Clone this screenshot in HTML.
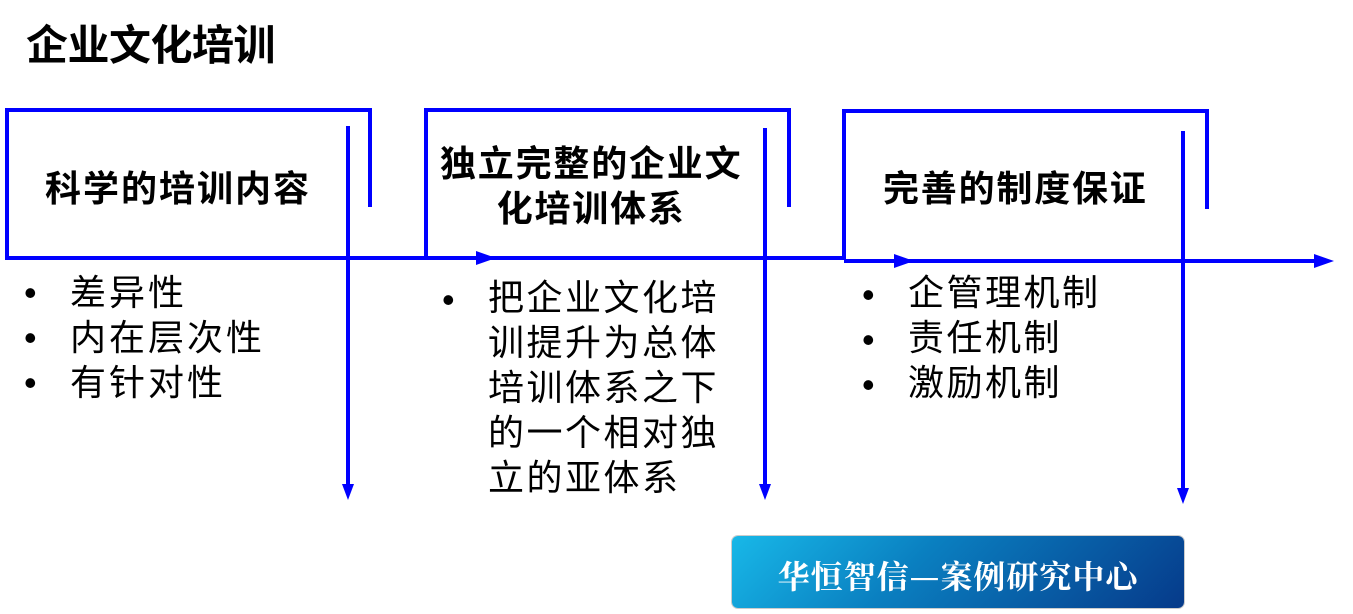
<!DOCTYPE html>
<html><head><meta charset="utf-8"><style>
body{margin:0;width:1353px;height:614px;background:#fff;position:relative;overflow:hidden;font-family:"Liberation Sans","Noto Sans CJK SC",sans-serif;}
.t{position:absolute;white-space:nowrap;color:#000;}
.b{font-weight:bold;}
.btn{position:absolute;left:732px;top:536px;width:452px;height:72px;border-radius:6px;background:linear-gradient(135deg,#18b8e8 0%,#0a7fc0 40%,#063a8a 100%);box-shadow:0 0 0 1px #ccc;}
.btn span{position:absolute;left:0;right:0;top:16px;text-align:center;color:#fff;font-size:32px;font-weight:bold;font-family:"Noto Serif CJK SC","WenQuanYi Zen Hei",serif;letter-spacing:1px;}
</style></head><body>
<svg width="1353" height="614" style="position:absolute;left:0;top:0">
<g stroke="#0000ff" stroke-width="4" fill="none">
<polyline points="7,258 7,110 370,110 370,207"/>
<polyline points="426,258 426,110 789,110 789,207"/>
<polyline points="844,260 844,111 1207,111 1207,209"/>
<line x1="5" y1="258" x2="844" y2="258"/>
<line x1="844" y1="261" x2="1318" y2="261"/>
<line x1="348" y1="126" x2="348" y2="488"/>
<line x1="765" y1="128" x2="765" y2="488"/>
<line x1="1183" y1="131" x2="1183" y2="492"/>
</g>
<g fill="#0000ff">
<polygon points="476,251 496,258 476,265"/>
<polygon points="894,254 914,261 894,268"/>
<polygon points="1314,254 1334,261 1314,268"/>
<polygon points="342,484 348,500 354,484"/>
<polygon points="759,484 765,500 771,484"/>
<polygon points="1177,488 1183,504 1189,488"/>
</g>
</svg>
<div class="t b" style="left:26px;top:12px;font-size:42px;letter-spacing:-0.5px;">企业文化培训</div>
<div class="t b" style="left:45px;top:160px;font-size:36px;letter-spacing:2px;">科学的培训内容</div>
<div class="t b" style="left:440px;top:141px;font-size:36px;letter-spacing:1.8px;line-height:45px;text-align:center;">独立完整的企业文<br>化培训体系</div>
<div class="t b" style="left:883px;top:160px;font-size:36px;letter-spacing:1.8px;">完善的制度保证</div>
<div class="t" style="left:24px;top:270px;font-size:36px;line-height:45px;">•<br>•<br>•</div>
<div class="t" style="left:70px;top:270px;font-size:36px;line-height:45px;letter-spacing:3px;">差异性<br>内在层次性<br>有针对性</div>
<div class="t" style="left:442px;top:277px;font-size:36px;line-height:45px;">•</div>
<div class="t" style="left:488px;top:275px;font-size:36px;line-height:45px;letter-spacing:2.5px;">把企业文化培<br>训提升为总体<br>培训体系之下<br>的一个相对独<br>立的亚体系</div>
<div class="t" style="left:862px;top:272px;font-size:36px;line-height:45px;">•<br>•<br>•</div>
<div class="t" style="left:908px;top:270px;font-size:36px;line-height:45px;letter-spacing:2.5px;">企管理机制<br>责任机制<br>激励机制</div>
<div class="btn"><span>华恒智信—案例研究中心</span></div>
</body></html>
